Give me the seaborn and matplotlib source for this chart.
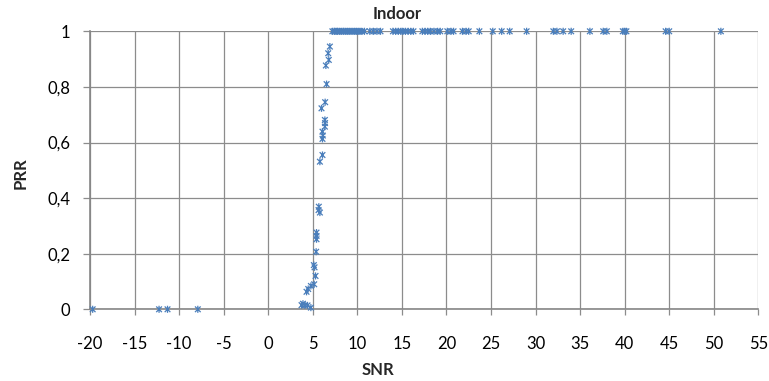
import matplotlib
matplotlib.use("Agg")
import matplotlib.pyplot as plt
from matplotlib.path import Path
import numpy as np
import pandas as pd
import seaborn as sns

# Packet reception ratio versus signal-to-noise ratio, indoor measurements
snr_low = [-19.7, -12.25, -11.3, -7.9]
prr_low = [0.0, 0.0, 0.0, 0.0]

snr_mid = [3.74, 3.9, 4.11, 4.41, 4.79, 4.3, 4.49, 4.79, 5.16, 5.31, 5.12, 5.2,
           5.38, 5.42, 5.42, 5.42, 5.68, 5.65, 5.8, 5.8, 6.09, 6.09, 6.13, 6.09,
           6.36, 6.38, 6.36, 5.98, 6.39, 6.55, 6.47, 6.8, 6.73, 6.92]
prr_mid = [0.015, 0.02, 0.015, 0.014, 0.006, 0.063, 0.073, 0.084, 0.09, 0.12, 0.159, 0.151,
           0.207, 0.252, 0.264, 0.276, 0.369, 0.357, 0.348, 0.531, 0.555, 0.613, 0.625, 0.639,
           0.657, 0.67, 0.681, 0.723, 0.745, 0.81, 0.877, 0.897, 0.921, 0.945]

snr_high = [7.2, 7.4, 7.5, 7.7, 7.8, 8.0, 8.2, 8.4, 8.5, 8.7, 8.9, 9.1, 9.3, 9.5,
            9.7, 9.9, 10.1, 10.3, 10.5, 10.8, 11.4, 11.8, 12.2, 12.6, 14.0, 14.3,
            14.6, 14.9, 15.1, 15.4, 15.7, 16.0, 16.3, 17.3, 17.6, 17.9, 18.2, 18.6,
            19.0, 19.3, 20.1, 20.5, 20.8, 21.8, 22.2, 22.5, 23.7, 25.2, 26.2, 27.1,
            29.0, 32.0, 32.4, 33.1, 34.0, 36.1, 37.6, 38.0, 39.8, 40.0, 40.2, 44.6,
            45.0, 50.8]
prr_high = [1.0] * len(snr_high)

x_ticks = [-20, -15, -10, -5, 0, 5, 10, 15, 20, 25, 30, 35, 40, 45, 50, 55]
x_tick_labels = ["-20", "-15", "-10", "-5", "0", "5", "10", "15", "20", "25",
                 "30", "35", "40", "45", "50", "55"]
y_ticks = [0, 0.2, 0.4, 0.6, 0.8, 1.0]
y_tick_labels = ["0", "0,2", "0,4", "0,6", "0,8", "1"]

df = pd.DataFrame({
    "SNR": snr_low + snr_mid + snr_high,
    "PRR": prr_low + prr_mid + prr_high,
})

sns.set_style("white")
plt.rcParams["font.family"] = ["Lato", "DejaVu Sans"]

W, H = 769, 381
fig = plt.figure(figsize=(W / 100, H / 100), dpi=100)
ax = fig.add_axes([90 / W, 1 - 309.3 / H, (758.3 - 90) / W, (309.3 - 31.3) / H])

# star marker: an X crossed by a vertical stroke
star = Path(
    [(-1, -1), (1, 1), (-1, 1), (1, -1), (0, -1.25), (0, 1.25)],
    [Path.MOVETO, Path.LINETO, Path.MOVETO, Path.LINETO, Path.MOVETO, Path.LINETO],
)

blue = "#4A7EBB"
sns.scatterplot(data=df, x="SNR", y="PRR", ax=ax, marker=star, s=26,
                color=blue, edgecolor=blue, facecolor="none", linewidth=0.9,
                clip_on=False, zorder=5, legend=False)

ax.set_xlim(-20, 55)
ax.set_ylim(0, 1)
ax.set_xticks(x_ticks)
ax.set_xticklabels(x_tick_labels)
ax.set_yticks(y_ticks)
ax.set_yticklabels(y_tick_labels)

grid_col = "#8c8c8c"
ax.grid(True, color=grid_col, linewidth=0.9)
ax.set_axisbelow(True)
for side in ["top", "right"]:
    ax.spines[side].set_visible(False)
for side in ["left", "bottom"]:
    ax.spines[side].set_color("#868686")
    ax.spines[side].set_linewidth(1.2)

ax.tick_params(axis="x", direction="out", length=4.5, width=0.9, color=grid_col,
               pad=14.5, labelsize=12, labelcolor="black")
ax.tick_params(axis="y", direction="out", length=5, width=0.9, color=grid_col,
               pad=9, labelsize=12, labelcolor="black")
ax.tick_params(bottom=True, left=True)

ax.set_xlabel("")
ax.set_ylabel("")
fig.text(396.7 / W, 1 - 19.3 / H, "Indoor", ha="center", va="baseline",
         fontsize=12, fontweight="bold")
fig.text(378.3 / W, 1 - 375 / H, "SNR", ha="center", va="baseline",
         fontsize=12, fontweight="bold")
fig.text(21 / W, 1 - 173.3 / H, "PRR", ha="center", va="center", rotation=90,
         fontsize=12, fontweight="bold")

fig.savefig("out.png", dpi=100)
